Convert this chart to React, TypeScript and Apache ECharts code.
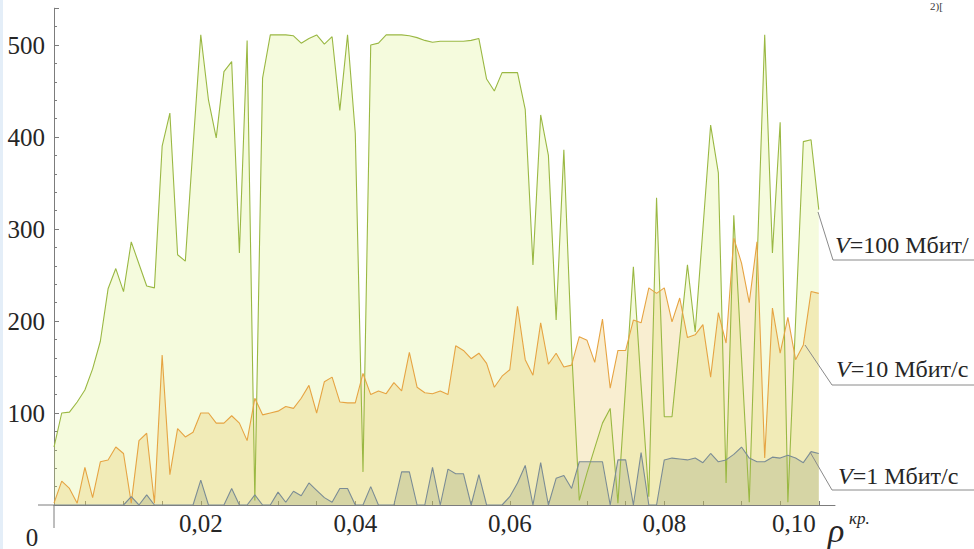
import React, { useEffect, useRef } from 'react';
import * as echarts from 'echarts';

const FONT = "'Times New Roman', 'Liberation Serif', 'DejaVu Serif', serif";

// ρ^кр. grid: 0.001 … 0.100, step 0.001
const rhoStart = 0.001;
const rhoStep = 0.001;

// V = 100 Мбит/с
const v100 = [
  63, 100, 101, 112, 125, 148, 178, 235, 257, 232,
  286, 262, 238, 236, 390, 426, 272, 265, 390, 511,
  440, 399, 471, 482, 274, 505, 5, 464, 511, 511,
  511, 510, 502, 507, 511, 501, 509, 429, 511, 404,
  36, 500, 502, 511, 511, 511, 510, 508, 505, 503,
  504, 504, 504, 504, 505, 507, 463, 450, 470, 470,
  470, 430, 261, 424, 380, 201, 386, 170, 5, 35,
  62, 89, 105, 2, 130, 259, 130, 9, 334, 96,
  96, 180, 261, 188, 300, 413, 361, 24, 315, 160,
  3, 260, 511, 274, 416, 3, 200, 395, 397, 321,
];

// V = 10 Мбит/с
const v10 = [
  2, 26, 18, 2, 41, 8, 47, 49, 63, 56,
  2, 70, 78, 2, 163, 33, 83, 74, 79, 100,
  100, 89, 89, 97, 89, 70, 116, 98, 100, 102,
  107, 105, 116, 130, 100, 134, 139, 112, 111, 111,
  143, 120, 124, 121, 133, 124, 166, 128, 122, 121,
  124, 120, 173, 168, 159, 165, 154, 128, 140, 147,
  216, 158, 141, 198, 153, 165, 150, 152, 183, 179,
  155, 202, 127, 168, 168, 201, 198, 236, 230, 236,
  199, 225, 182, 185, 196, 139, 209, 176, 290, 263,
  220, 286, 51, 214, 165, 204, 158, 174, 232, 230,
];

// V = 1 Мбит/с
const v1 = [
  0, 0, 0, 0, 0, 0, 0, 0, 0, 0,
  9, 0, 11, 0, 0, 0, 0, 0, 0, 27,
  0, 0, 0, 18, 0, 0, 11, 0, 0, 14,
  3, 15, 10, 24, 16, 8, 3, 18, 18, 0,
  0, 20, 0, 0, 0, 36, 36, 0, 0, 41,
  0, 39, 34, 34, 0, 33, 0, 0, 0, 9,
  24, 43, 0, 46, 0, 29, 32, 18, 47, 47,
  47, 47, 0, 49, 49, 0, 57, 0, 0, 49,
  51, 50, 49, 51, 46, 56, 47, 49, 55, 63,
  51, 47, 47, 52, 51, 54, 51, 46, 58, 56,
];

const xLabelValues = [0.02, 0.04, 0.06, 0.08, 0.1];
const xTickValues = [
  0.005, 0.01, 0.015, 0.02, 0.025, 0.03, 0.035, 0.04, 0.045, 0.05,
  0.055, 0.06, 0.065, 0.07, 0.075, 0.08, 0.085, 0.09, 0.095, 0.1,
];
const yLabelValues = [100, 200, 300, 400, 500];

const seriesNames = ['V=100 Мбит/с', 'V=10 Мбит/с', 'V=1 Мбит/с'];

const toPairs = (vals: number[]) =>
  vals.map((v, i) => [+(rhoStart + i * rhoStep).toFixed(3), v]);

export default function App() {
  const ref = useRef<HTMLDivElement>(null);
  useEffect(() => {
    if (!ref.current) return;
    const chart = echarts.init(ref.current, null, { renderer: 'svg' });
    const axisColor = '#7c7c7c';
    const txtColor = '#262626';
    const sets = [
      { name: seriesNames[0], data: v100, line: '#9ab843', fill: 'rgba(215,240,120,0.36)' },
      { name: seriesNames[1], data: v10, line: '#e6a443', fill: 'rgba(232,188,70,0.36)' },
      { name: seriesNames[2], data: v1, line: '#7b8c95', fill: 'rgba(122,138,104,0.32)' },
    ];
    const areaSeries = sets.map((s) => ({
      name: s.name + ' area',
      type: 'line',
      data: toPairs(s.data),
      showSymbol: false,
      silent: true,
      z: 1,
      lineStyle: { width: 0, opacity: 0 },
      areaStyle: { color: s.fill, origin: 'start' },
    }));
    const lineSeries = sets.map((s) => ({
      name: s.name,
      type: 'line',
      data: toPairs(s.data),
      showSymbol: false,
      z: 3,
      lineStyle: { width: 1.1, color: s.line },
    }));

    const labelText = (txt: string, x: number, y: number) => ({
      type: 'text',
      x,
      y,
      z: 10,
      style: {
        text: txt,
        fill: txtColor,
        fontFamily: FONT,
        fontSize: 24,
        verticalAlign: 'middle',
        align: 'left',
        rich: {
          i: { fontStyle: 'italic', fontFamily: FONT, fontSize: 24, fill: txtColor },
          n: { fontFamily: FONT, fontSize: 24, fill: txtColor },
        },
      },
    });
    const callout = (pts: number[][]) => ({
      type: 'polyline',
      z: 10,
      shape: { points: pts },
      style: { stroke: '#8a8a8a', lineWidth: 1, fill: 'none' },
    });

    chart.setOption({
      animation: false,
      backgroundColor: '#ffffff',
      textStyle: { fontFamily: FONT },
      grid: { left: 54, top: 8.2, width: 781, height: 496.8, containLabel: false },
      xAxis: {
        type: 'value',
        min: 0.001,
        max: 0.1021,
        axisLine: { onZero: false, lineStyle: { color: axisColor, width: 1 } },
        axisTick: {
          show: true,
          inside: true,
          length: 4,
          customValues: xTickValues,
          lineStyle: { color: axisColor },
        },
        axisLabel: {
          customValues: xLabelValues,
          fontFamily: FONT,
          fontSize: 25,
          color: txtColor,
          margin: 6,
          formatter: (v: number) =>
            v >= 0.099 ? '{last|0,10}' : v.toFixed(2).replace('.', ','),
          rich: {
            last: { fontFamily: FONT, fontSize: 25, color: txtColor, padding: [0, 50, 0, 0] },
          },
        },
        splitLine: { show: false },
      },
      yAxis: {
        type: 'value',
        min: 0,
        max: 540,
        interval: 100,
        axisLine: { show: true, onZero: false, lineStyle: { color: axisColor, width: 1 } },
        axisTick: { show: true, inside: true, length: 5, lineStyle: { color: axisColor } },
        minorTick: { show: true, splitNumber: 5, length: 3, lineStyle: { color: axisColor } },
        axisLabel: {
          customValues: yLabelValues,
          fontFamily: FONT,
          fontSize: 25,
          color: txtColor,
          margin: 9,
        },
        splitLine: { show: false },
      },
      series: [...areaSeries, ...lineSeries],
      graphic: [
        { type: 'rect', shape: { x: 0, y: 0, width: 3, height: 549 }, style: { fill: '#e4eef8' }, silent: true },
        { type: 'line', shape: { x1: 38, y1: 505, x2: 54, y2: 505 }, style: { stroke: axisColor, lineWidth: 1 } },
        { type: 'line', shape: { x1: 54, y1: 505, x2: 54, y2: 528 }, style: { stroke: axisColor, lineWidth: 1 } },
        {
          type: 'text', x: 32, y: 537,
          style: { text: '0', fontFamily: FONT, fontSize: 25, fill: txtColor, align: 'center', verticalAlign: 'middle' },
        },
        {
          type: 'text', x: 828, y: 530,
          style: { text: 'ρ', fontFamily: FONT, fontSize: 34, fontStyle: 'italic', fill: txtColor, align: 'left', verticalAlign: 'middle' },
        },
        {
          type: 'text', x: 849, y: 518,
          style: { text: 'кр.', fontFamily: FONT, fontSize: 17, fontStyle: 'italic', fill: txtColor, align: 'left', verticalAlign: 'middle' },
        },
        {
          type: 'text', x: 930, y: 0,
          style: { text: '2)[', fontFamily: FONT, fontSize: 11, fill: '#3a3a3a', align: 'left', verticalAlign: 'top' },
        },
        callout([[818, 212], [833, 260], [974, 260]]),
        callout([[805, 345], [832, 385], [974, 385]]),
        callout([[810, 452], [832, 490], [974, 490]]),
        labelText('{i|V}{n|=100 Мбит/}', 835, 245),
        labelText('{i|V}{n|=10 Мбит/с}', 836, 369),
        labelText('{i|V}{n|=1 Мбит/с}', 838, 476),
      ],
    });
    return () => chart.dispose();
  }, []);
  return (
    <div
      ref={ref}
      style={{ position: 'absolute', left: 0, top: 0, width: 974, height: 549, background: '#fff' }}
    />
  );
}
